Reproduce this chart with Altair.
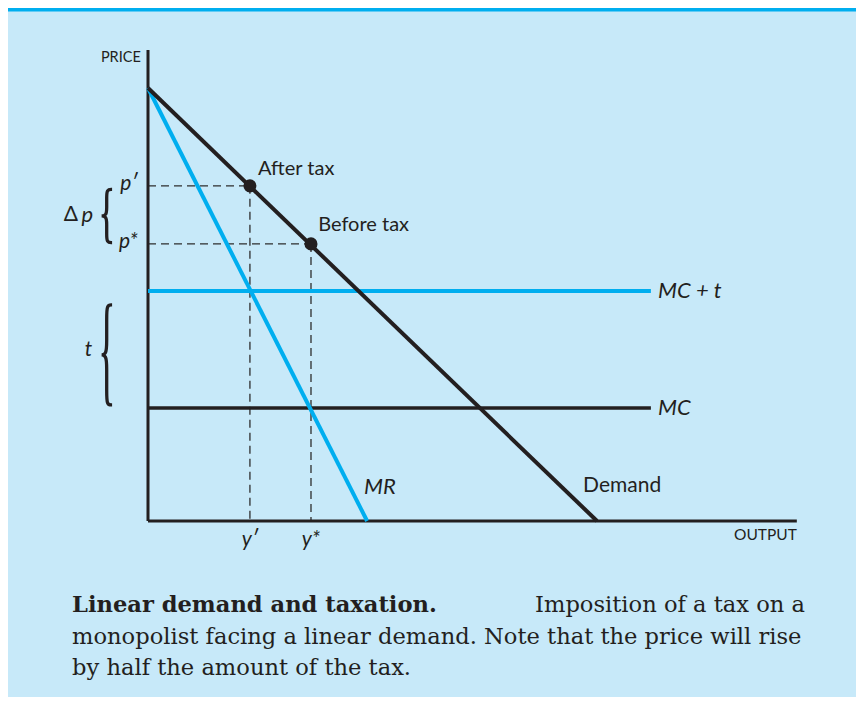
import altair as alt
import pandas as pd

# ---------------- data ----------------
demand_price_intercept = 100.0
demand_output_intercept = 100.0
mr_output_intercept = 48.8
mc = 26.1
mc_plus_t = 53.1
mc_line_end = 112.0
eq_output = [22.7, 36.3]          # y', y*
eq_price = [77.4, 64.0]           # p', p*
eq_labels = ["After tax", "Before tax"]
price_axis_top = 108.8
output_axis_end = 144.5

INK = "#231f20"
BLUE = "#00aeef"
BG = "#c7e9f9"
W, H = 848, 689
FONT = "Lato"
SERIF = "DejaVu Serif"

xs = alt.Scale(domain=[-31.18, 157.68], nice=False, zero=False)
ys = alt.Scale(domain=[-40.65, 118.48], nice=False, zero=False)


def X(f="x"):
    return alt.X(f"{f}:Q", scale=xs, axis=None)


def Y(f="y"):
    return alt.Y(f"{f}:Q", scale=ys, axis=None)


def seg(rows, color, width, dash=None):
    df = pd.DataFrame(rows, columns=["x", "y", "x2", "y2"])
    kw = dict(color=color, strokeWidth=width)
    if dash:
        kw["strokeDash"] = dash
    return alt.Chart(df).mark_rule(**kw).encode(
        x=X(), y=Y(), x2="x2:Q", y2="y2:Q"
    )


# axes
axes = seg([[0, 0, 0, price_axis_top], [0, 0, output_axis_end, 0]], INK, 3)

# demand & MR
demand = seg([[0, demand_price_intercept, demand_output_intercept, 0]], INK, 4)
mr = seg([[0, demand_price_intercept, mr_output_intercept, 0]], BLUE, 4)

# cost lines
mc_line = seg([[0, mc, mc_line_end, mc]], INK, 3.5)
mct_line = seg([[0, mc_plus_t, mc_line_end, mc_plus_t]], BLUE, 4)

# dashed guides
dash_rows = []
for q, p in zip(eq_output, eq_price):
    dash_rows.append([0, p, q, p])
    dash_rows.append([q, p, q, 0])
dashes = seg(dash_rows, "#2e2e2e", 1.3, dash=[8, 5])

# equilibrium points
pts = alt.Chart(pd.DataFrame({"x": eq_output, "y": eq_price})).mark_circle(
    size=170, color=INK, opacity=1
).encode(x=X(), y=Y())


# braces built from the bracketed value ranges
def brace(top, bottom, xr=-8.0, xm=-9.2, xl=-10.9, d=2.0):
    m = (top + bottom) / 2
    pts_ = [
        (xr, top), (xm, top), (xm, top - d), (xm, m + d), (xm, m),
        (xl, m), (xm, m), (xm, m - d), (xm, bottom + d), (xm, bottom), (xr, bottom),
    ]
    return pd.DataFrame({"x": [p[0] for p in pts_], "y": [p[1] for p in pts_],
                         "o": list(range(len(pts_)))})


brace_dp = alt.Chart(brace(eq_price[0] - 0.8, eq_price[1] + 0.3)).mark_line(
    color=INK, strokeWidth=3.3, interpolate="basis"
).encode(x=X(), y=Y(), order="o:Q")
brace_t = alt.Chart(brace(mc_plus_t - 3.2, mc + 0.7, d=3.0)).mark_line(
    color=INK, strokeWidth=3.3, interpolate="basis"
).encode(x=X(), y=Y(), order="o:Q")


def label(text, x, y, align="left", size=20, italic=False, font=FONT, color=INK):
    df = pd.DataFrame({"x": [x], "y": [y], "t": [text]})
    return alt.Chart(df).mark_text(
        align=align, baseline="middle", fontSize=size,
        fontStyle="italic" if italic else "normal", font=font, color=color,
    ).encode(x=X(), y=Y(), text="t:N")


dp_mid = (eq_price[0] + eq_price[1]) / 2
labels = [
    label("PRICE", -1.6, 106.9, align="right", size=14.5),
    label("OUTPUT", output_axis_end, -3.2, align="right", size=15.5),
    label(eq_labels[0], 24.5, 81.3),
    label(eq_labels[1], 37.9, 68.4),
    label("MC + t", 113.6, mc_plus_t, italic=True, size=22),
    label("MC", 113.6, mc, italic=True, size=22),
    label("MR", 48.1, 7.9, italic=True, size=22),
    label("Demand", 96.9, 8.1, size=21),
    label("p′", -2.3, eq_price[0] + 0.4, align="right", italic=True, size=21),
    label("p*", -2.3, eq_price[1] + 0.4, align="right", italic=True, size=21),
    label("y′", eq_output[0], -4.4, align="center", italic=True, size=21),
    label("y*", eq_output[1], -4.4, align="center", italic=True, size=21),
    label("p", -12.2, dp_mid, align="right", italic=True, size=22),
    label("Δ", -15.6, dp_mid, align="right", size=21),
    label("t", -12.4, (mc + mc_plus_t) / 2, align="right", italic=True, size=21),
]

# top border bar
bar = alt.Chart(pd.DataFrame({"a": [0]})).mark_rule(color=BLUE, strokeWidth=4).encode(
    x=alt.value(0), x2=alt.value(W), y=alt.value(1.5)
)


def cap(text, x, y, align="left", weight="normal"):
    return alt.Chart(pd.DataFrame({"t": [text]})).mark_text(
        align=align, baseline="middle", fontSize=22.6, font=SERIF,
        fontWeight=weight, color=INK,
    ).encode(x=alt.value(x), y=alt.value(y), text="t:N")


caption = [
    cap("Linear demand and taxation.", 64, 597, weight="bold"),
    cap("Imposition of a tax on a", 797, 597, align="right"),
    cap("monopolist facing a linear demand. Note that the price will rise", 64, 629),
    cap("by half the amount of the tax.", 64, 660),
]

chart = alt.layer(
    bar, dashes, axes, mct_line, mc_line, mr, demand, pts, brace_dp, brace_t,
    *labels, *caption,
).properties(
    width=W, height=H, background=BG, autosize=alt.AutoSizeParams(type="none"),
    padding=0,
).configure_view(stroke=None)

chart.save("out.html", embed_options={"renderer": "svg", "actions": False})
